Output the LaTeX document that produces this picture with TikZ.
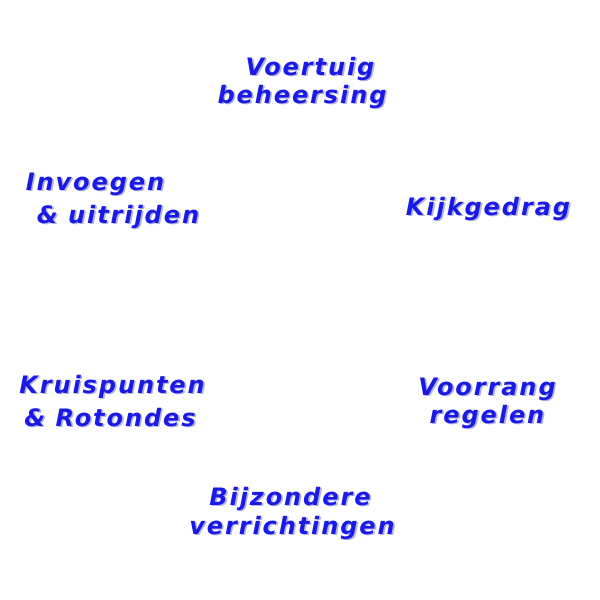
\documentclass[tikz,border=0pt]{standalone}
\usepackage{fontspec}
\newfontfamily\lblfont{DejaVu Sans}[LetterSpace=8]
\definecolor{txtblue}{HTML}{1A1AE6}
\definecolor{shade}{HTML}{B4B4E0}
\tikzset{
  lbl/.style={font=\lblfont\bfseries\itshape\fontsize{24}{24}\selectfont, text=txtblue, inner sep=0pt, anchor=base},
}
\newcommand{\shadowed}[1]{\makebox[0pt][l]{\hspace{1.7pt}\raisebox{-1.7pt}{\color{shade}#1}}#1}
\newcommand{\lab}[3]{\node[lbl] (#1) at (#2) {\shadowed{#3}};}
\begin{document}
\begin{tikzpicture}[x=1pt,y=-1pt]
\useasboundingbox (0,0) rectangle (600,600);
\fill[white] (0,0) rectangle (600,600);
\lab{a1}{310,75}{Voertuig}
\lab{a2}{302,103}{beheersing}
\lab{b1}{95,190}{Invoegen}
\lab{b2}{118,223}{\&\ uitrijden}
\lab{c1}{488,215}{Kijkgedrag}
\lab{d1}{112,393}{Kruispunten}
\lab{d2}{110,426}{\&\ Rotondes}
\lab{e1}{487,395}{Voorrang}
\lab{e2}{487,423}{regelen}
\lab{f1}{290,505}{Bijzondere}
\lab{f2}{292,534}{verrichtingen}
\end{tikzpicture}
\end{document}
